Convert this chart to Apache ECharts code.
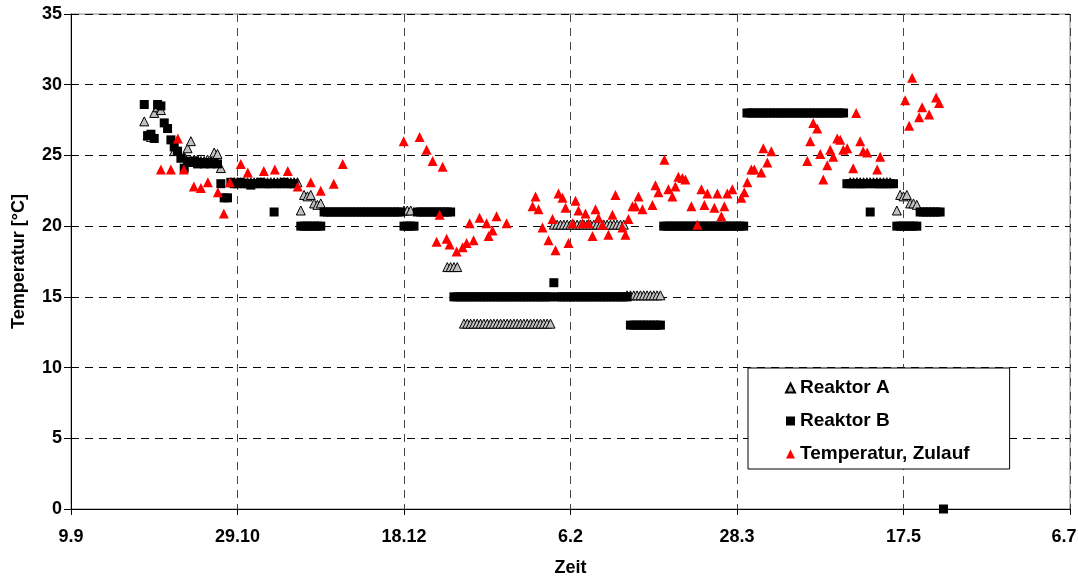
<!DOCTYPE html>
<html>
<head>
<meta charset="utf-8">
<script src="https://cdn.jsdelivr.net/npm/echarts@6/dist/echarts.min.js"></script>
<style>
  html, body { margin: 0; padding: 0; background: #fff; }
  #chart { width: 1078px; height: 579px; }
</style>
</head>
<body>
<div id="chart"></div>
<script>
// x values are days counted from 9.9; one axis step is 50 days
const tickLabels = ['9.9', '29.10', '18.12', '6.2', '28.3', '17.5', '6.7'];

// Reaktor A [day, °C]
const reaktorA = [
  [22,27.3],[23,26.3],[24,26.2],[25,27.9],[26,28.3],[27,28.1],[31,25.2],[34,24.8],[35,25.4],[36,25.9],
  [37,24.6],[38,24.6],[39,24.5],[40,24.5],[41,24.6],[42,24.5],[43,25.1],[44,25.0],[45,24.0],
  [48,23],[49,23],[50,23],[51,23],[52,23],[53,23],[54,23],[55,23],[56,23],[57,23],[58,23],
  [59,23],[60,23],[61,23],[62,23],[63,23],[64,23],[65,23],[66,23],[67,23],[68,23],
  [69,21.0],[70,22.1],[71,22.0],[72,22.1],[73,21.5],[74,21.4],[75,21.5],
  [100,21],[101,21],[102,21],
  [113,17],[114,17],[115,17],[116,17],
  [118,13],[119,13],[120,13],[121,13],[122,13],[123,13],[124,13],[125,13],[126,13],[127,13],
  [128,13],[129,13],[130,13],[131,13],[132,13],[133,13],[134,13],[135,13],[136,13],[137,13],
  [138,13],[139,13],[140,13],[141,13],[142,13],[143,13],[144,13],
  [145,20],[146,20],[147,20],[148,20],[149,20],[150,20],[151,20],[152,20],[153,20],[154,20],
  [155,20],[156,20],[157,20],[158,20],[159,20],[160,20],[161,20],[162,20],[163,20],[164,20],
  [165,20],[166,20],
  [167,15],[168,15],[169,15],[170,15],[171,15],[172,15],[173,15],[174,15],[175,15],[176,15],[177,15],
  [234,23],[235,23],[236,23],[237,23],[238,23],[239,23],[240,23],[241,23],[242,23],[243,23],
  [244,23],[245,23],[246,23],
  [248,21],[249,22.1],[250,22.0],[251,22.1],[252,21.5],[253,21.5],[254,21.4]
];

// Reaktor B [day, °C]
const reaktorB = [
  [22,28.6],[23,26.4],[24,26.5],[25,26.2],[26,28.6],[27,28.5],[28,27.3],[29,26.9],[30,26.1],[31,25.6],
  [32,25.3],[33,24.8],[34,24.1],[35,24.6],[36,24.5],[37,24.6],[38,24.4],[39,24.5],[40,24.4],[41,24.5],
  [42,24.4],[43,24.5],[44,24.4],
  [45,23.0],[46,22.0],[47,22.0],[48,23.1],[49,23.0],[50,23.0],[51,23.1],[52,23.0],[53,23.0],[54,22.9],
  [55,23.0],[56,23.0],[57,23.1],[58,23.0],[59,23.0],[60,23.0],[61,21.0],[62,23.0],[63,23.0],[64,23.1],
  [65,23.0],[66,23.0],[67,23.0],
  [69,20],[70,20],[71,20],[72,20],[73,20],[74,20],[75,20],
  [76,21],[77,21],[78,21],[79,21],[80,21],[81,21],[82,21],[83,21],[84,21],[85,21],[86,21],[87,21],
  [88,21],[89,21],[90,21],[91,21],[92,21],[93,21],[94,21],[95,21],[96,21],[97,21],[98,21],[99,21],
  [100,20],[101,20],[102,20],[103,20],
  [104,21],[105,21],[106,21],[107,21],[108,21],[109,21],[110,21],[111,21],[112,21],[113,21],[114,21],
  [115,15],[116,15],[117,15],[118,15],[119,15],[120,15],[121,15],[122,15],[123,15],[124,15],
  [125,15],[126,15],[127,15],[128,15],[129,15],[130,15],[131,15],[132,15],[133,15],[134,15],
  [135,15],[136,15],[137,15],[138,15],[139,15],[140,15],[141,15],[142,15],[143,15],[144,15],
  [145,16],
  [146,15],[147,15],[148,15],[149,15],[150,15],[151,15],[152,15],[153,15],[154,15],[155,15],
  [156,15],[157,15],[158,15],[159,15],[160,15],[161,15],[162,15],[163,15],[164,15],[165,15],
  [166,15],[167,15],
  [168,13],[169,13],[170,13],[171,13],[172,13],[173,13],[174,13],[175,13],[176,13],[177,13],
  [178,20],[179,20],[180,20],[181,20],[182,20],[183,20],[184,20],[185,20],[186,20],[187,20],
  [188,20],[189,20],[190,20],[191,20],[192,20],[193,20],[194,20],[195,20],[196,20],[197,20],
  [198,20],[199,20],[200,20],[201,20],[202,20],
  [203,28],[204,28],[205,28],[206,28],[207,28],[208,28],[209,28],[210,28],[211,28],[212,28],
  [213,28],[214,28],[215,28],[216,28],[217,28],[218,28],[219,28],[220,28],[221,28],[222,28],
  [223,28],[224,28],[225,28],[226,28],[227,28],[228,28],[229,28],[230,28],[231,28],[232,28],
  [233,23],[234,23],[235,23],[236,23],[237,23],[238,23],[239,23],[240,21],[241,23],[242,23],
  [243,23],[244,23],[245,23],[246,23],[247,23],
  [248,20],[249,20],[250,20],[251,20],[252,20],[253,20],[254,20],
  [255,21],[256,21],[257,21],[258,21],[259,21],[260,21],[261,21],
  [262,0]
];

// Temperatur, Zulauf [day, °C]
const zulauf = [
  [27.0,24.0],[30.0,24.0],[32.1,26.2],[33.9,24.0],[36.9,22.8],[39.0,22.7],[41.1,23.1],[44.1,22.4],
  [45.9,20.9],[47.7,23.1],[51.0,24.4],[53.1,23.8],[57.9,23.9],[61.2,24.0],[65.1,23.9],[68.1,22.8],
  [72.0,23.1],[75.0,22.5],[78.9,23.0],[81.6,24.4],
  [99.9,26.0],[104.7,26.3],[106.8,25.4],[108.6,24.6],[111.6,24.2],[110.7,20.8],[109.8,18.9],
  [112.8,19.1],[113.7,18.7],[115.8,18.2],[117.6,18.5],[118.8,18.8],[119.7,20.2],[120.9,19.0],
  [122.7,20.6],[124.8,20.2],[125.4,19.3],[126.6,19.7],[127.8,20.7],[130.8,20.2],
  [138.6,21.4],[139.5,22.1],[140.4,21.2],[141.6,19.9],[143.4,19.0],[144.6,20.5],[145.5,18.3],
  [146.4,22.3],[147.6,22.0],[148.5,21.3],[149.4,18.8],[150.6,20.2],[151.5,21.8],[152.4,21.1],
  [153.6,20.2],[154.5,20.9],[155.4,20.2],[156.6,19.3],[157.5,21.2],[158.4,20.6],[159.6,20.1],
  [161.4,19.4],[162.6,20.8],[163.5,22.2],[165.6,19.9],[166.5,19.4],[167.4,20.5],[168.6,21.4],
  [169.5,21.4],[170.4,22.1],[171.6,21.2],[174.6,21.5],[175.5,22.9],[176.4,22.4],[178.2,24.7],
  [179.4,22.6],[180.6,22.1],[181.5,22.8],[182.4,23.5],[183.6,23.4],[184.5,23.3],[186.3,21.4],
  [188.1,20.1],[189.3,22.6],[190.2,21.5],[191.1,22.3],[193.2,21.3],[194.1,22.3],[195.3,20.7],
  [196.2,21.4],[197.1,22.3],[198.6,22.6],[201.3,22.0],[202.2,22.4],[203.1,23.1],[204.3,24.0],
  [205.2,24.0],[207.3,23.8],[207.9,25.5],[209.1,24.5],[210.3,25.3],
  [221.1,24.6],[222.0,26.0],[222.9,27.3],[224.1,26.9],[225.0,25.1],[225.9,23.3],[227.1,24.3],
  [228.0,25.4],[228.9,24.9],[230.1,26.2],[231.0,26.1],[231.9,25.4],[233.1,25.5],[234.9,24.1],
  [235.8,28.0],[237.0,26.0],[237.9,25.3],[239.1,25.2],[242.1,24.0],[243.0,24.9],
  [250.5,28.9],[251.7,27.1],[252.6,30.5],[254.7,27.7],[255.6,28.4],[257.7,27.9],[259.8,29.1],[260.7,28.7]
];

const FONT = '"Liberation Sans", Arial, sans-serif';
const chart = echarts.init(document.getElementById('chart'), null, { renderer: 'canvas' });

chart.setOption({
  animation: false,
  backgroundColor: '#ffffff',
  textStyle: { fontFamily: FONT },
  grid: {
    left: 71, right: 8, top: 14, bottom: 70,
    containLabel: false, outerBoundsMode: 'none',
    show: true, borderColor: '#808080', borderWidth: 1, backgroundColor: '#ffffff'
  },
  xAxis: {
    type: 'value', min: 0, max: 300, interval: 50,
    name: 'Zeit', nameLocation: 'middle', nameGap: 50,
    nameTextStyle: { fontFamily: FONT, fontWeight: 'bold', fontSize: 18, color: '#000' },
    axisLine: { show: true, onZero: false, lineStyle: { color: '#000', width: 1 } },
    axisTick: { show: true, inside: false, length: 6, lineStyle: { color: '#000' } },
    axisLabel: {
      margin: 19, fontFamily: FONT, fontWeight: 'bold', fontSize: 18, color: '#000',
      // the last label is nudged left so it stays inside the page
      formatter: v => {
        const i = Math.round(v / 50);
        return i === tickLabels.length - 1 ? '{last|' + tickLabels[i] + '}' : tickLabels[i];
      },
      rich: {
        last: { fontFamily: FONT, fontWeight: 'bold', fontSize: 18, color: '#000', padding: [0, 12, 0, 0] }
      }
    },
    splitLine: { show: true, lineStyle: { color: '#444', width: 1, type: [8, 6] } }
  },
  yAxis: {
    type: 'value', min: 0, max: 35, interval: 5,
    name: 'Temperatur [°C]', nameLocation: 'middle', nameGap: 43, nameRotate: 90,
    nameTextStyle: { fontFamily: FONT, fontWeight: 'bold', fontSize: 18, color: '#000' },
    axisLine: { show: true, lineStyle: { color: '#000', width: 1 } },
    axisTick: { show: true, inside: false, length: 7, lineStyle: { color: '#000' } },
    axisLabel: { margin: 9, fontFamily: FONT, fontWeight: 'bold', fontSize: 18, color: '#000' },
    splitLine: { show: true, lineStyle: { color: '#000', width: 1, type: [8, 6] } }
  },
  legend: {
    orient: 'vertical',
    left: 748, top: 368,
    padding: [10, 40, 5, 37],
    itemGap: 13,
    itemWidth: 9, itemHeight: 9,
    backgroundColor: '#ffffff',
    borderColor: '#000', borderWidth: 1, borderRadius: 0,
    textStyle: { fontFamily: FONT, fontWeight: 'bold', fontSize: 19, lineHeight: 20, color: '#000' },
    data: ['Reaktor A', 'Reaktor B', 'Temperatur, Zulauf']
  },
  series: [
    {
      name: 'Reaktor A', type: 'scatter', data: reaktorA,
      symbol: 'triangle', symbolSize: 9, symbolOffset: [0, -1.5],
      itemStyle: { color: '#c0c0c0', borderColor: '#000', borderWidth: 1, opacity: 1 },
      z: 2
    },
    {
      name: 'Reaktor B', type: 'scatter', data: reaktorB,
      symbol: 'rect', symbolSize: 9,
      itemStyle: { color: '#000', opacity: 1 },
      z: 3
    },
    {
      name: 'Temperatur, Zulauf', type: 'scatter', data: zulauf,
      symbol: 'triangle', symbolSize: 10,
      itemStyle: { color: '#ff0000', opacity: 1 },
      z: 4
    }
  ]
});
</script>
</body>
</html>
